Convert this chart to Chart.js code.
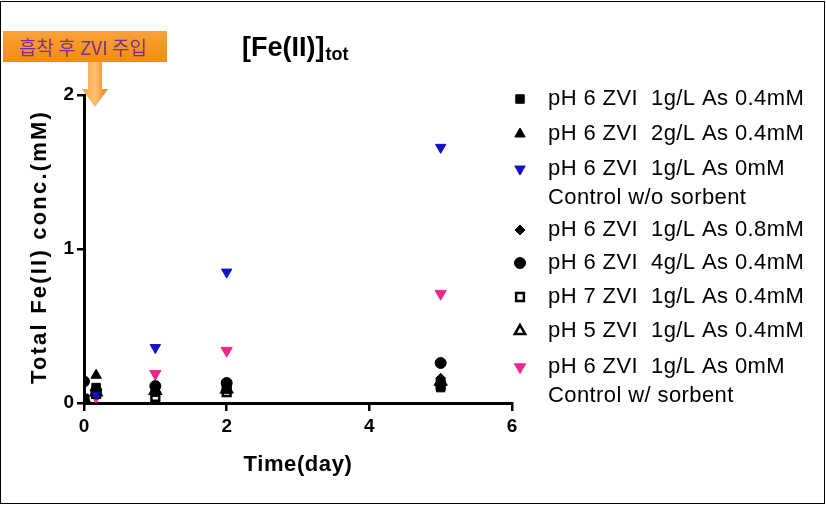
<!DOCTYPE html>
<html>
<head>
<meta charset="utf-8">
<script src="https://cdn.jsdelivr.net/npm/chart.js@4/dist/chart.umd.min.js"></script>
<style>
html,body{margin:0;padding:0;background:#fff;}
#wrap{width:826px;height:505px;position:relative;}
</style>
</head>
<body>
<div id="wrap"><canvas id="c" width="826" height="505"></canvas></div>
<script>
// ---- data ----
const times = [0, 0.17, 1, 2, 5];
const seriesNames = [
  ["pH 6 ZVI  1g/L As 0.4mM"],
  ["pH 6 ZVI  2g/L As 0.4mM"],
  ["pH 6 ZVI  1g/L As 0mM", "Control w/o sorbent"],
  ["pH 6 ZVI  1g/L As 0.8mM"],
  ["pH 6 ZVI  4g/L As 0.4mM"],
  ["pH 7 ZVI  1g/L As 0.4mM"],
  ["pH 5 ZVI  1g/L As 0.4mM"],
  ["pH 6 ZVI  1g/L As 0mM", "Control w/ sorbent"]
];
const ph6_1g_04 = [0.03, 0.10, 0.07, 0.09, 0.10];
const ph6_2g_04 = [0.04, 0.18, 0.09, 0.10, 0.13];
const ph6_1g_0_noSorbent = [0.02, 0.06, 0.36, 0.85, 1.66];
const ph6_1g_08 = [0.03, 0.08, 0.10, 0.11, 0.16];
const ph6_4g_04 = [0.14, 0.08, 0.11, 0.13, 0.26];
const ph7_1g_04 = [0.02, 0.06, 0.04, 0.07, 0.12];
const ph5_1g_04 = [0.03, 0.07, 0.08, 0.09, 0.14];
const ph6_1g_0_sorbent = [0.02, 0.04, 0.19, 0.34, 0.71];
const xTicks = [0, 2, 4, 6];
const yTicks = [0, 1, 2];
const xTitle = 'Time(day)';
const yTitle = 'Total Fe(II) conc.(mM)';

const BLUE = '#1212C4', PINK = '#F0288C';
const styles = [
  {pointStyle:'rect', rotation:0, fill:'#000', stroke:'#000', bw:1, r:6},
  {pointStyle:'triangle', rotation:0, fill:'#000', stroke:'#000', bw:1, r:6},
  {pointStyle:'triangle', rotation:180, fill:BLUE, stroke:BLUE, bw:1, r:6},
  {pointStyle:'rectRot', rotation:0, fill:'#000', stroke:'#000', bw:1, r:5},
  {pointStyle:'circle', rotation:0, fill:'#000', stroke:'#000', bw:1, r:5.5},
  {pointStyle:'rect', rotation:0, fill:'#fff', stroke:'#000', bw:2.5, r:5.5},
  {pointStyle:'triangle', rotation:0, fill:'#fff', stroke:'#000', bw:2.5, r:6},
  {pointStyle:'triangle', rotation:180, fill:PINK, stroke:PINK, bw:1, r:6.5}
];
const allSeries = [ph6_1g_04, ph6_2g_04, ph6_1g_0_noSorbent, ph6_1g_08, ph6_4g_04, ph7_1g_04, ph5_1g_04, ph6_1g_0_sorbent];

const datasets = allSeries.map((vals, i) => ({
  label: seriesNames[i].join(' '),
  data: vals.map((v, k) => ({x: times[k], y: v})),
  pointStyle: styles[i].pointStyle,
  rotation: styles[i].rotation,
  backgroundColor: styles[i].fill,
  borderColor: styles[i].stroke,
  borderWidth: styles[i].bw,
  pointRadius: styles[i].r,
  pointHoverRadius: styles[i].r,
  showLine: false
}));

const FONT = "'Liberation Sans', Arial, sans-serif";

function spaced(ctx, px) { if ('letterSpacing' in ctx) ctx.letterSpacing = px + 'px'; }

const decor = {
  id: 'decor',
  beforeDraw(chart) {
    const ctx = chart.ctx;
    ctx.save();
    ctx.fillStyle = '#fff';
    ctx.fillRect(0, 0, chart.width, chart.height);
    ctx.restore();
  },
  afterDraw(chart) {
    const ctx = chart.ctx;
    const ca = chart.chartArea;
    ctx.save();
    // outer frame
    ctx.strokeStyle = '#000';
    ctx.lineWidth = 1;
    ctx.strokeRect(0.5, 1.5, 824, 502);

    // axis titles
    ctx.fillStyle = '#000';
    ctx.textAlign = 'center';
    ctx.textBaseline = 'middle';
    ctx.font = "bold 22px " + FONT;
    spaced(ctx, 0.6);
    ctx.fillText(xTitle, (ca.left + ca.right) / 2, 465);
    ctx.save();
    ctx.translate(40, (ca.top + ca.bottom) / 2 - 2);
    ctx.rotate(-Math.PI / 2);
    ctx.font = "bold 22px " + FONT;
    spaced(ctx, 2.2);
    ctx.fillText(yTitle, 0, 0);
    ctx.restore();
    spaced(ctx, 0);

    // title
    ctx.fillStyle = '#000';
    ctx.textBaseline = 'alphabetic';
    ctx.textAlign = 'left';
    ctx.font = "bold 27px " + FONT;
    const t1 = "[Fe(II)]";
    ctx.fillText(t1, 242, 56);
    const w1 = ctx.measureText(t1).width;
    ctx.font = "bold 18px " + FONT;
    ctx.fillText("tot", 242 + w1 + 1, 60);

    // legend
    const rowsY = [99, 134, 169, 198, 230, 263, 297, 331, 367, 396];
    let r = 0;
    const sym = 520, tx = 548;
    seriesNames.forEach((lines, i) => {
      const st = styles[i];
      ctx.save();
      ctx.fillStyle = st.fill;
      ctx.strokeStyle = st.stroke;
      ctx.lineWidth = st.bw;
      Chart.helpers.drawPoint(ctx, {pointStyle: st.pointStyle, rotation: st.rotation, radius: st.r, borderWidth: st.bw}, sym, rowsY[r]);
      ctx.restore();
      lines.forEach((ln) => {
        ctx.fillStyle = '#000';
        ctx.font = "22px " + FONT;
        spaced(ctx, 0.4);
        ctx.textBaseline = 'middle';
        ctx.fillText(ln, tx, rowsY[r]);
        r++;
      });
    });
    spaced(ctx, 0);

    // annotation box
    const bx = 3, by = 31, bw = 164, bh = 31;
    const g = ctx.createLinearGradient(0, by, 0, by + bh);
    g.addColorStop(0, '#FBA23A');
    g.addColorStop(1, '#F28C0F');
    ctx.fillStyle = g;
    ctx.fillRect(bx, by, bw, bh);
    ctx.fillStyle = '#7A2E8E';
    ctx.font = "19px 'Noto Sans CJK KR', sans-serif";
    ctx.textAlign = 'center';
    ctx.textBaseline = 'middle';
    ctx.fillText("흡착 후 ZVI 주입", bx + bw / 2 - 2, by + bh / 2 + 1);

    // arrow
    const ax = 95;
    const ag = ctx.createLinearGradient(ax - 14, 0, ax + 14, 0);
    ag.addColorStop(0, '#F5A040');
    ag.addColorStop(0.5, '#FFC070');
    ag.addColorStop(1, '#E07A10');
    ctx.fillStyle = ag;
    ctx.beginPath();
    ctx.moveTo(ax - 7, 62);
    ctx.lineTo(ax + 7, 62);
    ctx.lineTo(ax + 7, 89);
    ctx.lineTo(ax + 13, 89);
    ctx.lineTo(ax, 107);
    ctx.lineTo(ax - 13, 89);
    ctx.lineTo(ax - 7, 89);
    ctx.closePath();
    ctx.fill();
    ctx.restore();
  }
};

const tickFont = {family: FONT, size: 19, weight: 'bold'};
new Chart(document.getElementById('c'), {
  type: 'scatter',
  data: {datasets},
  options: {
    responsive: false,
    animation: false,
    events: [],
    layout: {padding: {top: 95, right: 314, bottom: 0, left: 0}},
    plugins: {legend: {display: false}, title: {display: false}, tooltip: {enabled: false}},
    scales: {
      x: {
        type: 'linear', min: 0, max: 6,
        afterFit(s) { s.height = 102; },
        afterBuildTicks(s) { s.ticks = xTicks.map(v => ({value: v})); },
        ticks: {font: tickFont, color: '#000', padding: 4},
        grid: {drawOnChartArea: false, drawTicks: true, tickLength: 8, color: '#000', lineWidth: 2.5},
        border: {display: true, color: '#000', width: 3},
        title: {display: false}
      },
      y: {
        type: 'linear', min: 0, max: 2,
        afterFit(s) { s.width = 84; },
        afterBuildTicks(s) { s.ticks = yTicks.map(v => ({value: v})); },
        ticks: {font: tickFont, color: '#000', padding: 3},
        grid: {drawOnChartArea: false, drawTicks: true, tickLength: 7, color: '#000', lineWidth: 2.5},
        border: {display: true, color: '#000', width: 3},
        title: {display: false}
      }
    }
  },
  plugins: [decor]
});
</script>
</body>
</html>
